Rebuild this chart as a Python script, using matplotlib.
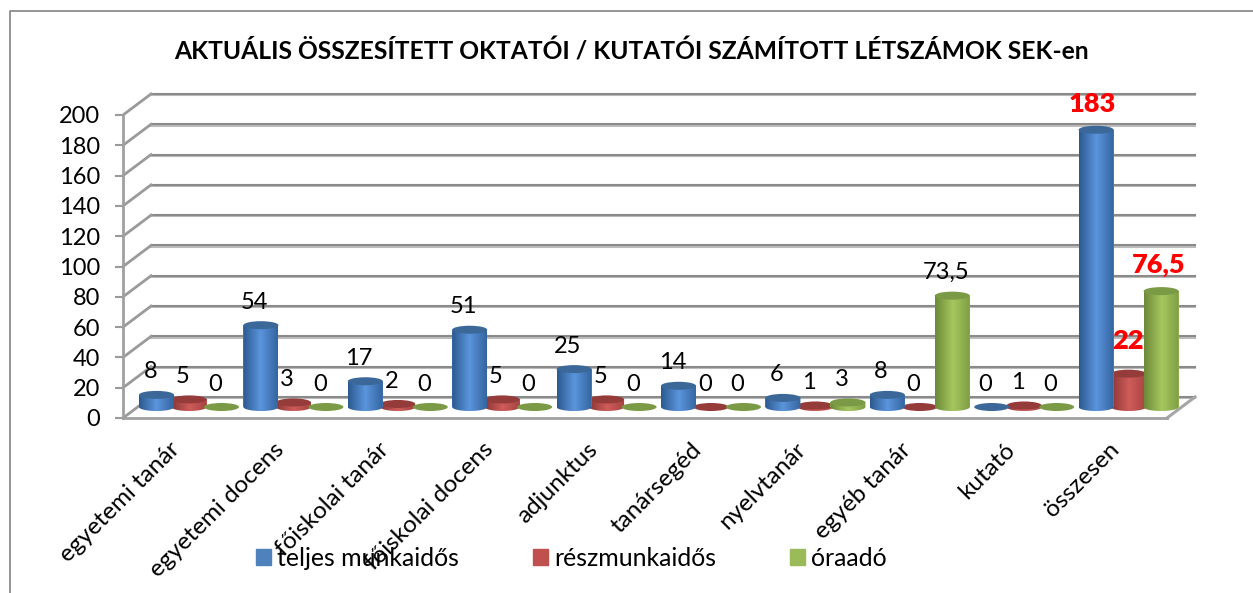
import numpy as np
import matplotlib
matplotlib.use('Agg')
import matplotlib.pyplot as plt
from matplotlib.colors import LinearSegmentedColormap
from matplotlib.lines import Line2D
from matplotlib.patches import Ellipse, Patch, Polygon
from matplotlib.transforms import ScaledTranslation

plt.rcParams['font.family'] = ['Lato', 'DejaVu Sans']

categories = ['egyetemi tanár', 'egyetemi docens', 'főiskolai tanár', 'főiskolai docens',
              'adjunktus', 'tanársegéd', 'nyelvtanár', 'egyéb tanár', 'kutató', 'összesen']
teljes = [8, 54, 17, 51, 25, 14, 6, 8, 0, 183]
reszes = [5, 3, 2, 5, 5, 0, 1, 0, 1, 22]
oraado = [0, 0, 0, 0, 0, 0, 3, 73.5, 0, 76.5]
series_names = ['teljes munkaidős', 'részmunkaidős', 'óraadó']
yticks = list(range(0, 201, 20))

W, H = 1253, 593
PX_X = 104.4          # pixel / kategoria
PX_Y = 303 / 200      # pixel / egyseg
DX = 28 / PX_X        # 3D melyseg
DY = 21 / PX_Y
BASE = 11 / PX_Y      # oszlopok talppontja
BAR_W = 35 / PX_X
CAP_H = 8 / PX_Y
STEP = 32.5 / PX_X

fig = plt.figure(figsize=(W / 100, H / 100), dpi=100)
ax = fig.add_axes([123 / W, (H - 418) / H, (1167 - 123) / W, 303 / H])
xl = (123 - 189) / PX_X
xr = (1167 - 189) / PX_X

GRID_D = '#8a8a8a'
GRID_L = '#bcbcbc'

# falak es padlo
for v in yticks:
    ax.plot([xl + DX, xr + DX], [v + DY - 0.8, v + DY - 0.8], color=GRID_L, lw=1.5, clip_on=False, zorder=1)
    ax.plot([xl + DX, xr + DX], [v + DY, v + DY], color=GRID_D, lw=1.5, clip_on=False, zorder=1.1)
    ax.plot([xl, xl + DX], [v, v + DY], color='#9a9a9a', lw=2, clip_on=False, zorder=1.1)
ax.plot([xr, xr + DX], [0, DY], color='#a6a6a6', lw=2.2, clip_on=False, zorder=1.1)

series = [
    (reszes, 0, ['#8a3735', '#cf5c5a', '#a54442'], '#953b39', 3),
    (teljes, -1, ['#2c5a8f', '#5b95dd', '#34659f'], '#3b6899', 4),
    (oraado, 1, ['#6c8a38', '#a6c75f', '#7d9c43'], '#7b9a45', 4),
]
t = np.linspace(0, np.pi, 40)
grad = np.linspace(0, 1, 64).reshape(1, -1)
for vals, pos, cols, cap, z in series:
    cmap = LinearSegmentedColormap.from_list('c', cols)
    for i, v in enumerate(vals):
        x = i + pos * STEP
        if v > 0:
            ax.bar(x, v, BAR_W, bottom=BASE, color=cols[1], zorder=z, clip_on=False)
            outline = np.vstack([
                np.c_[x + BAR_W / 2 * np.cos(t), BASE - CAP_H / 2 * np.sin(t)],
                [[x - BAR_W / 2, BASE + v], [x + BAR_W / 2, BASE + v]],
            ])
            body = Polygon(outline, closed=True, facecolor='none', edgecolor='none', clip_on=False)
            ax.add_patch(body)
            im = ax.imshow(grad, extent=[x - BAR_W / 2, x + BAR_W / 2, BASE - CAP_H, BASE + v],
                           aspect='auto', cmap=cmap, zorder=z + 0.1)
            im.set_clip_box(fig.bbox)
            im.set_clip_path(body)
        ax.add_patch(Ellipse((x, BASE + v), BAR_W, CAP_H, facecolor=cap, edgecolor='none',
                             zorder=z + 0.2, clip_on=False))

# adatfeliratok
LABEL_Y = 22.4
special = {(-1, 9): (0.02, 2.0), (0, 9): (0.05, 6.5), (1, 9): (0.04, 2.0)}
for vals, pos, cols, cap, z in series:
    for i, v in enumerate(vals):
        x = i + pos * STEP - 0.06
        txt = str(v).replace('.', ',')
        if (pos, i) in special:
            sx, sy = special[(pos, i)]
            ax.text(x + sx, v + LABEL_Y + sy, txt, ha='center', va='center', fontsize=19.5,
                    fontweight='heavy', color='#ff0000', zorder=6, clip_on=False)
        else:
            ax.text(x, v + LABEL_Y, txt, ha='center', va='center', fontsize=17, color='black', zorder=6)

ax.set_xlim(xl, xr)
ax.set_ylim(0, 200)
ax.set_yticks(yticks)
ax.set_xticks(range(len(categories)))
ax.set_xticklabels(categories, rotation=45, ha='right', va='top', rotation_mode='anchor')
ax.tick_params(axis='y', length=5.5, width=1.5, color='#9a9a9a', labelsize=17, pad=11)
ax.tick_params(axis='x', length=0, labelsize=17.5, pad=15)
shift = ScaledTranslation(-20 / 100, 0, fig.dpi_scale_trans)
for lab in ax.get_xticklabels():
    lab.set_transform(lab.get_transform() + shift)
ax.patch.set_visible(False)
for s in ['top', 'right']:
    ax.spines[s].set_visible(False)
for s in ['left', 'bottom']:
    ax.spines[s].set_color('#a0a0a0')
    ax.spines[s].set_linewidth(2)

fig.text(631 / W, (H - 52) / H, 'AKTUÁLIS ÖSSZESÍTETT OKTATÓI / KUTATÓI SZÁMÍTOTT LÉTSZÁMOK SEK-en',
         ha='center', va='center', fontsize=17.7, fontweight='bold', color='black')

handles = [Patch(color=c) for c in ['#4f81bd', '#c0504d', '#9bbb59']]
fs = 17.9
px = fs * 100 / 72
ax.legend(handles, series_names, ncol=3, loc='lower left', frameon=False, fontsize=fs,
          bbox_to_anchor=(256 / W, (H - 570) / H), bbox_transform=fig.transFigure,
          borderpad=0, borderaxespad=0, handlelength=15 / px, handleheight=15 / px,
          handletextpad=6 / px, columnspacing=74 / px)

# kulso keret
fig.add_artist(Line2D([10 / W, 10 / W, 1], [0, (H - 11) / H, (H - 11) / H], color='#8c8c8c', lw=1.3))

fig.savefig('out.png', dpi=100)
